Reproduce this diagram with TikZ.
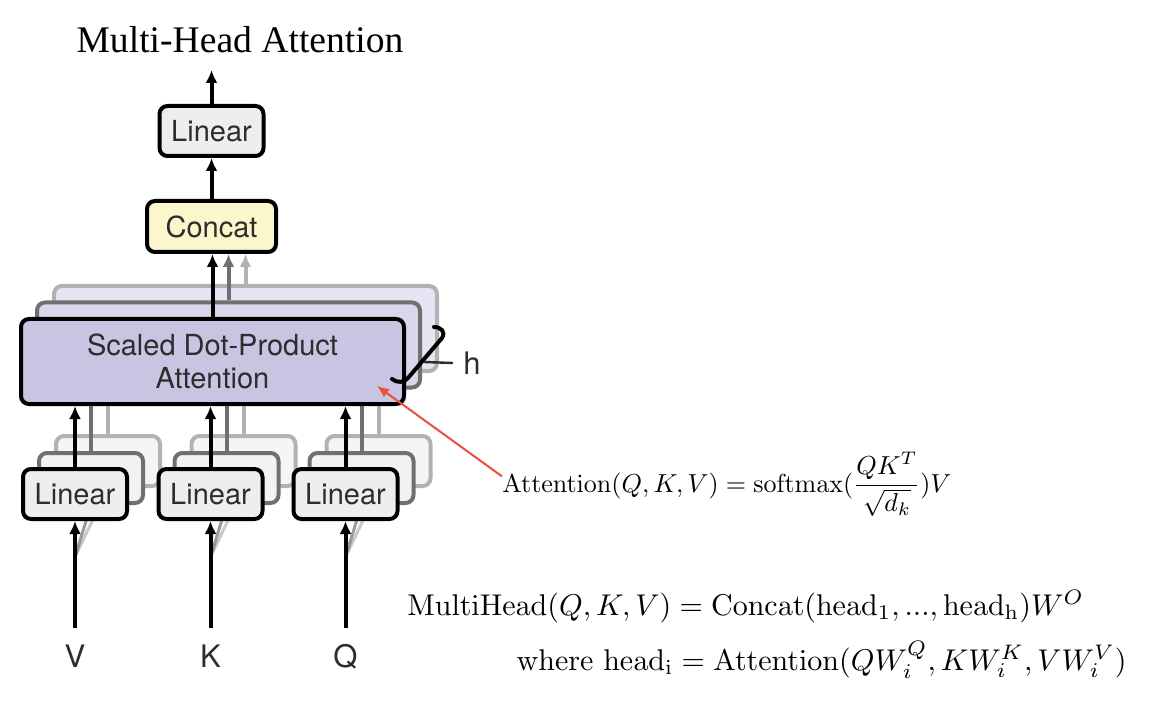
\documentclass[tikz,border=0pt]{standalone}
\usepackage[no-math]{fontspec}
\setsansfont{TeX Gyre Heros}
\newfontfamily\titlefont{Liberation Serif}
\usetikzlibrary{arrows.meta}
\definecolor{linfill}{RGB}{237,239,238}
\definecolor{concatfill}{RGB}{252,246,205}
\definecolor{sdpafill}{RGB}{200,196,226}
\definecolor{textgray}{RGB}{45,45,45}
\definecolor{graytwo}{RGB}{112,112,112}
\definecolor{graythree}{RGB}{178,178,178}
\definecolor{redc}{RGB}{232,80,58}
\begin{document}
\begin{tikzpicture}[x=0.5pt,y=-0.5pt,
  blk/.style={draw=black, line width=2pt, rounded corners=4pt, inner sep=0pt, align=center,
    text=textgray, font=\sffamily\fontsize{14.5}{16.5}\selectfont},
  linbox/.style={blk, fill=linfill, minimum width=52pt, minimum height=25pt},
  concatbox/.style={blk, fill=concatfill, minimum width=64.5pt, minimum height=25.5pt},
  sdpabox/.style={blk, fill=sdpafill, minimum width=191.5pt, minimum height=42.5pt},
  layertwo/.style={draw=graytwo},
  layerthree/.style={draw=graythree},
  arr/.style={line width=2pt, -{Latex[length=6.5pt,width=6pt]}},
  plain/.style={line width=2pt},
  lbl/.style={font=\sffamily\fontsize{15.5}{18}\selectfont, text=textgray, inner sep=0pt},
  formula/.style={inner sep=0pt, font=\fontsize{10}{12}\selectfont}
]
\useasboundingbox (0,0) rectangle (1164,706);

% ---- layer 3 (back) ----
\node[sdpabox, layerthree, fill=sdpafill!45] (sdpa3) at (245.5,328.5) {};
\node[linbox, layerthree, fill=linfill!60] (linV3) at (108,461) {};
\node[linbox, layerthree, fill=linfill!60] (linK3) at (243.5,461) {};
\node[linbox, layerthree, fill=linfill!60] (linQ3) at (378.5,461) {};
\draw[plain, graythree] (linV3.north) -- (linV3.north |- sdpa3.south);
\draw[plain, graythree] (linK3.north) -- (linK3.north |- sdpa3.south);
\draw[plain, graythree] (linQ3.north) -- (linQ3.north |- sdpa3.south);

% ---- layer 2 ----
\node[sdpabox, layertwo, fill=sdpafill!70] (sdpa2) at (228.5,345) {};
\node[linbox, layertwo, fill=linfill!80] (linV2) at (91,478) {};
\node[linbox, layertwo, fill=linfill!80] (linK2) at (226.5,478) {};
\node[linbox, layertwo, fill=linfill!80] (linQ2) at (361.5,478) {};
\draw[plain, graytwo] (linV2.north) -- (linV2.north |- sdpa2.south);
\draw[plain, graytwo] (linK2.north) -- (linK2.north |- sdpa2.south);
\draw[plain, graytwo] (linQ2.north) -- (linQ2.north |- sdpa2.south);

% input coordinates
\coordinate (vin) at (75,628);
\coordinate (kin) at (210.5,628);
\coordinate (qin) at (345.5,628);
\coordinate (vsh) at (75,557);
\coordinate (ksh) at (210.5,557);
\coordinate (qsh) at (345.5,557);

% faint shadows of back input arrows
\draw[line width=1.5pt, graythree, opacity=.7] (vsh) -- (linV3.south);
\draw[line width=1.5pt, graytwo, opacity=.7] (vsh) -- (linV2.south);
\draw[line width=1.5pt, graythree, opacity=.7] (ksh) -- (linK3.south);
\draw[line width=1.5pt, graytwo, opacity=.7] (ksh) -- (linK2.south);
\draw[line width=1.5pt, graythree, opacity=.7] (qsh) -- (linQ3.south);
\draw[line width=1.5pt, graytwo, opacity=.7] (qsh) -- (linQ2.south);

% ---- front layer ----
\node[linbox] (lintop) at (211.5,131) {Linear};
\node[concatbox] (concat) at (211.5,226.5) {Concat};
\node[sdpabox] (sdpa) at (212.5,361.5) {Scaled Dot-Product\\Attention};
\node[linbox] (linV) at (75,494) {Linear};
\node[linbox] (linK) at (210.5,494) {Linear};
\node[linbox] (linQ) at (345.5,494) {Linear};

% arrows into concat
\draw[arr, graythree] (sdpa3.north) -- (sdpa3.north |- concat.south);
\draw[arr, graytwo] (sdpa2.north) -- (sdpa2.north |- concat.south);
\draw[arr] (sdpa.north) -- (sdpa.north |- concat.south);
\draw[arr] (concat.north) -- (concat.north |- lintop.south);
\coordinate (out) at (211.5,70);
\draw[arr] (lintop.north) -- (out);

% linear -> sdpa
\draw[arr] (linV.north) -- (linV.north |- sdpa.south);
\draw[arr] (linK.north) -- (linK.north |- sdpa.south);
\draw[arr] (linQ.north) -- (linQ.north |- sdpa.south);

% inputs
\draw[arr] (vin) -- (linV.south);
\draw[arr] (kin) -- (linK.south);
\draw[arr] (qin) -- (linQ.south);
\node[lbl, anchor=base] (lv) at (75,667) {V};
\node[lbl, anchor=base] (lk) at (210.5,667) {K};
\node[lbl, anchor=base] (lq) at (345.5,667) {Q};

% title
\node[anchor=base, inner sep=0pt, font=\titlefont\fontsize{18.8}{22}\selectfont] (title) at (240,53) {Multi-Head Attention};

% h bracket
\draw[line width=2pt, line cap=round] (434,327) .. controls (441,327) and (446,332) .. (442,338) -- (408,378) .. controls (404,383) and (397,383) .. (392,379);
\coordinate (hstart) at (424,362);
\node[lbl, anchor=west] (h) at (463,363) {h};
\draw[line width=1.2pt, textgray] (hstart) -- ([xshift=-5pt]h.west);

% formulas
\node[formula, anchor=base west] (attn) at (502,492)
  {\scalebox{1.3}{$\mathrm{Attention}(Q,K,V)=\mathrm{softmax}(\displaystyle\frac{QK^T}{\sqrt{d_k}})V$}};
\coordinate (tip) at (377,386);
\draw[redc, line width=1pt, -{Latex[length=6pt,width=5pt]}] ([yshift=4pt]attn.west) -- (tip);

\node[formula, anchor=base west] (mh1) at (407,615)
  {\scalebox{1.5}{$\mathrm{MultiHead}(Q,K,V)=\mathrm{Concat}(\mathrm{head}_1,...,\mathrm{head}_{\mathrm{h}})W^O$}};
\node[formula, anchor=base east] (mh2) at (1127,670)
  {\scalebox{1.5}{$\mathrm{where}\ \mathrm{head}_{\mathrm{i}}=\mathrm{Attention}(QW^Q_i,KW^K_i,VW^V_i)$}};
\end{tikzpicture}
\end{document}
